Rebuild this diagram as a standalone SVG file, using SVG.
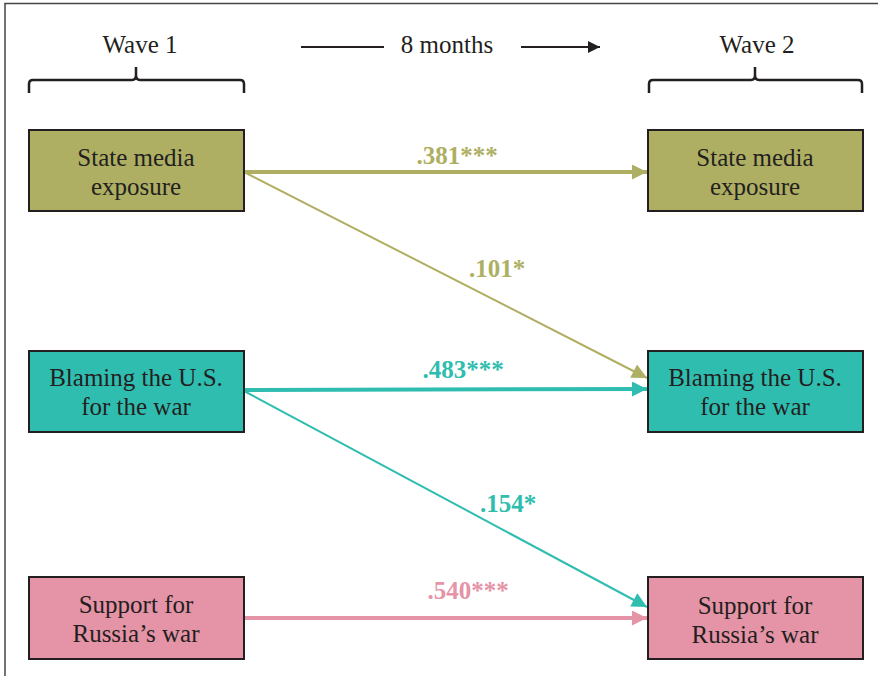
<svg xmlns="http://www.w3.org/2000/svg" width="878" height="676" viewBox="0 0 878 676">
<style>
.t{font-family:"Liberation Serif","Times New Roman",serif;font-size:25px;fill:#231f20;text-anchor:middle}
.c{font-family:"Liberation Serif","Times New Roman",serif;font-size:25px;font-weight:bold;text-anchor:middle}
.box{stroke:#231f20;stroke-width:2}
.ol{fill:#aeaf62}.te{fill:#2fbdb0}.pk{fill:#e593a6}
.br{fill:none;stroke:#231f20;stroke-width:2.5}
</style>
<defs>
<marker id="hb" viewBox="0 0 10 10" refX="10" refY="5" markerWidth="16" markerHeight="12" markerUnits="userSpaceOnUse" orient="auto"><path d="M0,0L10,5L0,10z" fill="#231f20"/></marker>
<marker id="ho" viewBox="0 0 10 10" refX="10" refY="5" markerWidth="17" markerHeight="15" markerUnits="userSpaceOnUse" orient="auto"><path d="M0,0L10,5L0,10z" fill="#aeaf62"/></marker>
<marker id="ht" viewBox="0 0 10 10" refX="10" refY="5" markerWidth="17" markerHeight="15" markerUnits="userSpaceOnUse" orient="auto"><path d="M0,0L10,5L0,10z" fill="#2fbdb0"/></marker>
<marker id="hp" viewBox="0 0 10 10" refX="10" refY="5" markerWidth="17" markerHeight="15" markerUnits="userSpaceOnUse" orient="auto"><path d="M0,0L10,5L0,10z" fill="#e593a6"/></marker>
</defs>
<rect x="0" y="0" width="878" height="676" fill="#fff"/>
<path d="M5,676V3.5H878" fill="none" stroke="#444" stroke-width="1.5"/>
<g id="header">
<text class="t" x="140" y="53">Wave 1</text>
<text class="t" x="757" y="53">Wave 2</text>
<path class="br" d="M29,93V84Q29,80 33,80H132Q136,80 136,75V67M136,75Q136,80 140,80H240Q244,80 244,84V93"/>
<path class="br" d="M649,93V84Q649,80 653,80H751Q755,80 755,75V67M755,75Q755,80 759,80H858Q862,80 862,84V93"/>
<text class="t" x="447" y="53">8 months</text>
<line x1="301" y1="47" x2="384" y2="47" stroke="#231f20" stroke-width="2"/>
<line x1="521" y1="47" x2="600" y2="47" stroke="#231f20" stroke-width="2" marker-end="url(#hb)"/>
</g>
<g id="connectors">
<line x1="244" y1="172" x2="647" y2="172" stroke="#aeaf62" stroke-width="4" marker-end="url(#ho)"/>
<line x1="244" y1="172" x2="647" y2="378" stroke="#aeaf62" stroke-width="2" marker-end="url(#ho)"/>
<line x1="244" y1="390" x2="647" y2="389" stroke="#2fbdb0" stroke-width="4" marker-end="url(#ht)"/>
<line x1="244" y1="391" x2="647" y2="607" stroke="#2fbdb0" stroke-width="2" marker-end="url(#ht)"/>
<line x1="244" y1="618" x2="647" y2="618" stroke="#e593a6" stroke-width="4" marker-end="url(#hp)"/>
<text class="c" x="457" y="164" fill="#aeaf62">.381***</text>
<text class="c" x="497" y="277" fill="#aeaf62">.101*</text>
<text class="c" x="463" y="378" fill="#2fbdb0">.483***</text>
<text class="c" x="508" y="512" fill="#2fbdb0">.154*</text>
<text class="c" x="468" y="599" fill="#e593a6">.540***</text>
</g>
<g id="sm1"><rect class="box ol" x="29" y="130" width="215" height="81"/><text class="t" x="136" y="166">State media</text><text class="t" x="136" y="195">exposure</text></g>
<g id="sm2"><rect class="box ol" x="648" y="130" width="215" height="81"/><text class="t" x="755" y="166">State media</text><text class="t" x="755" y="195">exposure</text></g>
<g id="bl1"><rect class="box te" x="29" y="351" width="215" height="81"/><text class="t" x="136" y="386">Blaming the U.S.</text><text class="t" x="136" y="415">for the war</text></g>
<g id="bl2"><rect class="box te" x="648" y="351" width="215" height="81"/><text class="t" x="755" y="386">Blaming the U.S.</text><text class="t" x="755" y="415">for the war</text></g>
<g id="su1"><rect class="box pk" x="29" y="577" width="215" height="82"/><text class="t" x="136" y="613">Support for</text><text class="t" x="136" y="642">Russia’s war</text></g>
<g id="su2"><rect class="box pk" x="648" y="577" width="215" height="82"/><text class="t" x="755" y="614">Support for</text><text class="t" x="755" y="643">Russia’s war</text></g>
</svg>
